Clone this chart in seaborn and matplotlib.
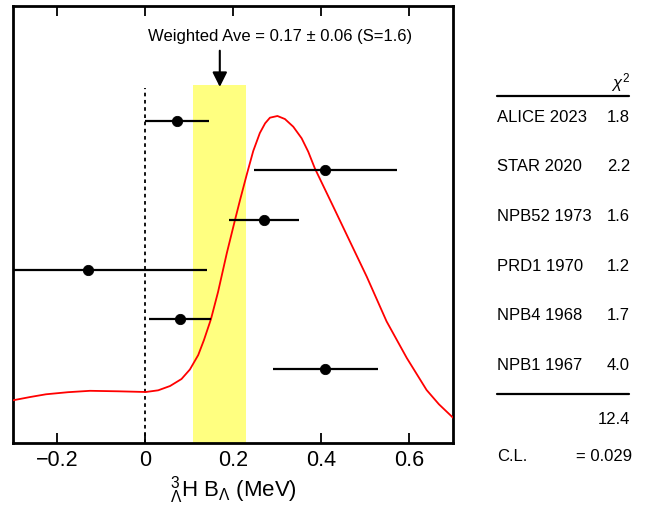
import matplotlib
matplotlib.use("Agg")
import matplotlib.pyplot as plt
from matplotlib.transforms import blended_transform_factory
import seaborn as sns

# measurements (top row first)
labels = ["ALICE 2023", "STAR 2020", "NPB52 1973", "PRD1 1970", "NPB4 1968", "NPB1 1967"]
values = [0.073, 0.41, 0.27, -0.13, 0.08, 0.41]
errors = [0.073, 0.163, 0.08, 0.27, 0.07, 0.12]
chi2 = ["1.8", "2.2", "1.6", "1.2", "1.7", "4.0"]
rows = [6, 5, 4, 3, 2, 1]

# weighted average
ave = 0.17
ave_err = 0.06
chi2_total = "12.4"
cl_text = "= 0.029"

# ideogram curve
curve_x = [-0.3, -0.261, -0.225, -0.175, -0.125, -0.061, 0.002, 0.030, 0.057, 0.083,
           0.102, 0.121, 0.134, 0.150, 0.166, 0.186, 0.2045, 0.216, 0.231, 0.246,
           0.261, 0.273, 0.284, 0.301, 0.318, 0.337, 0.356, 0.371, 0.386, 0.428,
           0.466, 0.504, 0.549, 0.595, 0.640, 0.668, 0.7]
curve_y = [0.370, 0.436, 0.491, 0.533, 0.561, 0.551, 0.537, 0.571, 0.658, 0.799,
           0.990, 1.282, 1.584, 2.007, 2.551, 3.336, 4.000, 4.403, 4.907, 5.390,
           5.752, 5.948, 6.061, 6.095, 6.034, 5.879, 5.646, 5.376, 5.041, 4.268,
           3.563, 2.859, 1.960, 1.221, 0.577, 0.290, 0.02]

sns.set_theme(style="white")
plt.rcParams["font.family"] = ["Liberation Sans", "DejaVu Sans"]
plt.rcParams["mathtext.fontset"] = "custom"
plt.rcParams["mathtext.rm"] = "Liberation Sans"
plt.rcParams["mathtext.it"] = "Liberation Sans:italic"
plt.rcParams["text.color"] = "black"
plt.rcParams["axes.labelcolor"] = "black"

fig = plt.figure(figsize=(6.49, 5.05), dpi=100)
ax = fig.add_axes([13 / 649, 62 / 505, 440 / 649, 437 / 505])

ax.set_xlim(-0.3, 0.7)
ax.set_ylim(-0.49, 8.31)

# yellow band for the average
ax.fill_between([ave - ave_err, ave + ave_err], -0.49, 6.72, color="#ffff80", lw=0, zorder=1)
# zero line
ax.plot([0, 0], [-0.49, 6.66], color="black", lw=1.3, ls=(0, (2, 2)), zorder=2)

sns.lineplot(x=curve_x, y=curve_y, color="red", lw=1.3, ax=ax, zorder=3,
             solid_joinstyle="round", solid_capstyle="round")

ax.hlines(rows, [v - e for v, e in zip(values, errors)], [v + e for v, e in zip(values, errors)],
          color="black", lw=1.6, zorder=4)
sns.scatterplot(x=values, y=rows, color="black", s=55, edgecolor="black", ax=ax, zorder=5)

ax.annotate("", xy=(ave, 6.68), xytext=(ave, 7.41),
            arrowprops=dict(arrowstyle="-|>", color="black", lw=1.5, mutation_scale=22,
                            shrinkA=0, shrinkB=0))
ax.text(0.307, 7.605, "Weighted Ave = 0.17 \u00b1 0.06 (S=1.6)", ha="center", va="baseline", fontsize=12)

for s in ax.spines.values():
    s.set_linewidth(2)
    s.set_color("black")
ax.set_yticks([])
ax.set_xticks([-0.2, 0, 0.2, 0.4, 0.6])
ax.set_xticklabels(["\u22120.2", "0", "0.2", "0.4", "0.6"])
ax.tick_params(axis="x", direction="in", top=True, bottom=True, length=7, width=1.3,
               labelsize=15.5, pad=5, colors="black")
ax.set_xlabel(r"${}^{3}_{\Lambda}$H B$_{\Lambda}$ (MeV)", fontsize=16, labelpad=2)

# chi2 table on the right
trans = blended_transform_factory(fig.transFigure, ax.transData)
xl = 497 / 649
xr = 630 / 649
ax.text(xr, 6.658, r"$\chi^{2}$", transform=trans, ha="right", va="baseline", fontsize=12)
ax.plot([xl, 629 / 649], [6.497, 6.497], transform=trans, color="black", lw=1.6, clip_on=False)
for lab, c, r in zip(labels, chi2, rows):
    ax.text(xl, r - 0.02, lab, transform=trans, ha="left", va="baseline", fontsize=12)
    ax.text(xr, r - 0.02, c, transform=trans, ha="right", va="baseline", fontsize=12)
ax.plot([xl, 629 / 649], [0.497, 0.497], transform=trans, color="black", lw=1.6, clip_on=False)
ax.text(xr, -0.108, chi2_total, transform=trans, ha="right", va="baseline", fontsize=12)
ax.text(xl, -0.853, "C.L.", transform=trans, ha="left", va="baseline", fontsize=12)
ax.text(632 / 649, -0.853, cl_text, transform=trans, ha="right", va="baseline", fontsize=12)

fig.savefig("out.png", dpi=100)
